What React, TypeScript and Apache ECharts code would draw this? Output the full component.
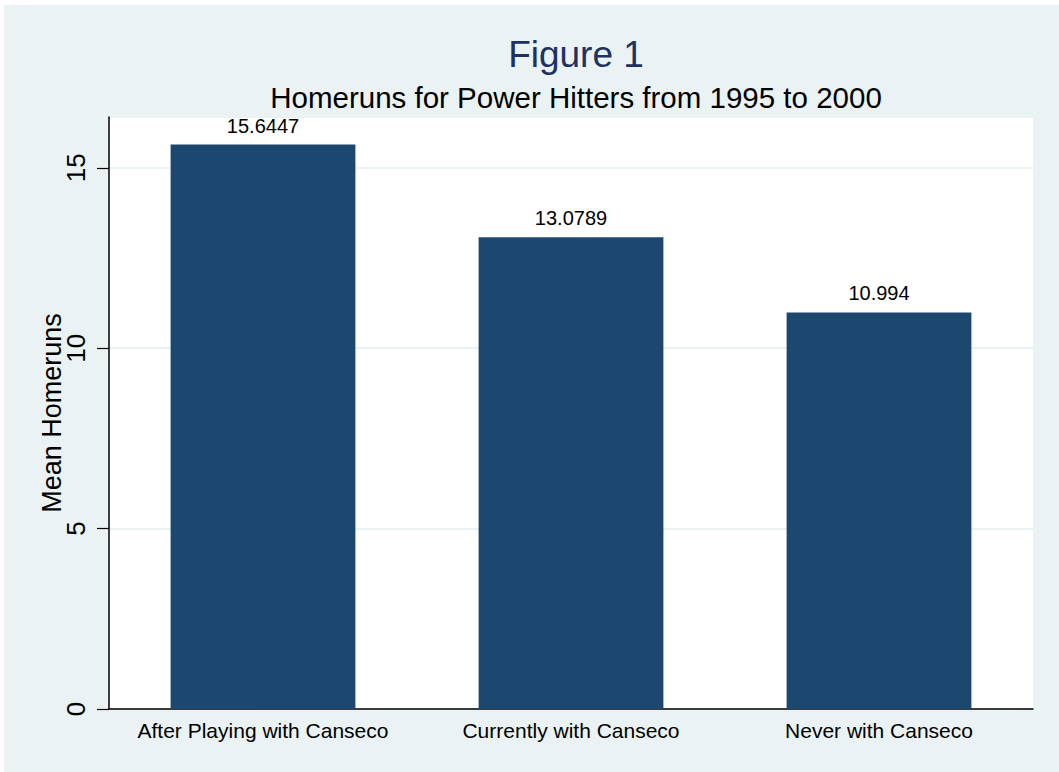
import React, { useEffect, useRef } from "react";
import * as echarts from "echarts";

const categories = ["After Playing with Canseco", "Currently with Canseco", "Never with Canseco"];
const meanHomeruns = [15.6447, 13.0789, 10.994];
const valueLabels = ["15.6447", "13.0789", "10.994"];
const yTicks = [0, 5, 10, 15];

const NAVY = "#1c476f";
const TITLE = "#1e3262";
const BG = "#eaf2f3";
const FONT = "Liberation Sans, Arial, sans-serif";

export default function App() {
  const ref = useRef<HTMLDivElement>(null);
  useEffect(() => {
    if (!ref.current) return;
    const chart = echarts.init(ref.current, undefined, { renderer: "svg" });
    chart.setOption({
      animation: false,
      backgroundColor: "#ffffff",
      graphic: [
        {
          type: "rect",
          z: -10,
          shape: { x: 4, y: 5, width: 1055, height: 767 },
          style: { fill: BG },
          silent: true,
        },
      ],
      title: [
        {
          text: "Figure 1",
          left: 571,
          textAlign: "center",
          top: 31,
          textStyle: { color: TITLE, fontSize: 37, fontWeight: "normal", fontFamily: FONT },
        },
        {
          text: "Homeruns for Power Hitters from 1995 to 2000",
          left: 571,
          textAlign: "center",
          top: 77,
          textStyle: { color: "#000000", fontSize: 29.5, fontWeight: "normal", fontFamily: FONT },
        },
      ],
      grid: { left: 109, right: 26, top: 117, bottom: 63, backgroundColor: "#ffffff", show: true, borderWidth: 0 },
      xAxis: {
        type: "category",
        data: categories,
        axisLine: { show: true, lineStyle: { color: "#000000", width: 1.5 } },
        axisTick: { show: false },
        axisLabel: { color: "#000000", fontSize: 21, fontFamily: FONT, margin: 11, interval: 0 },
      },
      yAxis: {
        type: "value",
        min: 0,
        max: 16.41,
        interval: 5,
        name: "Mean Homeruns",
        nameLocation: "middle",
        nameGap: 44,
        nameMoveOverlap: false,
        nameRotate: 90,
        nameTextStyle: { color: "#000000", fontSize: 27, fontFamily: FONT },
        axisLine: { show: true, lineStyle: { color: "#000000", width: 1.5 } },
        axisTick: { show: true, length: 12, lineStyle: { color: "#000000", width: 1.2 } },
        axisLabel: {
          color: "#000000",
          fontSize: 26,
          fontFamily: FONT,
          rotate: 90,
          margin: 20,
          showMaxLabel: false,
          formatter: (v: number) => (yTicks.includes(v) ? String(v) : ""),
        },
        splitLine: { show: true, lineStyle: { color: BG, width: 2 } },
      },
      series: [
        {
          type: "bar",
          data: meanHomeruns,
          barCategoryGap: "40%",
          itemStyle: { color: NAVY },
          label: {
            show: true,
            position: "top",
            distance: 9,
            color: "#000000",
            fontSize: 20,
            fontFamily: FONT,
            formatter: (p: any) => valueLabels[p.dataIndex],
          },
        },
      ],
    });
    return () => chart.dispose();
  }, []);
  return <div ref={ref} style={{ position: "fixed", left: 0, top: 0, width: 1059, height: 772 }} />;
}
